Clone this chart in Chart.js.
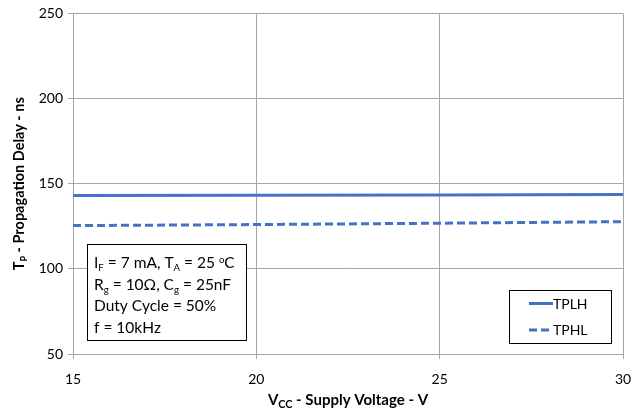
<!DOCTYPE html>
<html>
<head>
<meta charset="utf-8">
<script src="https://cdn.jsdelivr.net/npm/chart.js@4.4.0/dist/chart.umd.min.js"></script>
<style>
  html, body { margin: 0; padding: 0; background: #fff; }
  #wrap { width: 640px; height: 416px; }
</style>
</head>
<body>
<div id="wrap"><canvas id="delayChart" width="640" height="416"></canvas></div>
<script>
// Chart data
const vcc = [15, 20, 25, 30];
const tplh = [143, 143.2, 143.4, 143.6];
const tphl = [125.4, 126, 126.8, 127.7];
const xTicks = [15, 20, 25, 30];
const yTicks = [50, 100, 150, 200, 250];
const noteLines = [
    [['I', ''], ['F', 'sub'], [' = 7 mA, T', ''], ['A', 'sub'], [' = 25 ', ''], ['o', 'sup'], ['C', '']],
    [['R', ''], ['g', 'sub'], [' = 10\u03A9, C', ''], ['g', 'sub'], [' = 25nF', '']],
    [['Duty Cycle = 50%', '']],
    [['f = 10kHz', '']]
];

const FONT = 'Lato, "Open Sans", sans-serif';
const BLUE = '#4472C4';

// draw a run of text pieces with sub/superscripts
function drawRich(ctx, parts, x, y, size, bold, subScale) {
    const k = subScale || 0.62;
    let cx = x;
    parts.forEach(([txt, kind]) => {
        const s = kind ? size * k : size;
        ctx.font = (bold ? 'bold ' : '') + s + 'px ' + FONT;
        let dy = 0;
        if (kind === 'sub') dy = size * 0.22;
        if (kind === 'sup') dy = -size * 0.35;
        ctx.fillText(txt, cx, y + dy);
        cx += ctx.measureText(txt).width;
    });
    return cx - x;
}

function richWidth(ctx, parts, size, bold, subScale) {
    const k = subScale || 0.62;
    let w = 0;
    parts.forEach(([txt, kind]) => {
        const s = kind ? size * k : size;
        ctx.font = (bold ? 'bold ' : '') + s + 'px ' + FONT;
        w += ctx.measureText(txt).width;
    });
    return w;
}

// axis titles, note box and legend
const extras = {
    id: 'extras',
    afterDraw(chart) {
        const ctx = chart.ctx;
        const area = chart.chartArea;
        ctx.save();
        ctx.fillStyle = '#000';
        ctx.textBaseline = 'alphabetic';
        ctx.textAlign = 'left';

        // x title
        const xt = [['V', ''], ['CC', 'sub'], [' - Supply Voltage - V', '']];
        const xw = richWidth(ctx, xt, 15, true, 0.72);
        drawRich(ctx, xt, (area.left + area.right) / 2 - xw / 2, 405, 15, true, 0.72);

        // y title
        const yt = [['T', ''], ['P', 'sub'], [' - Propagation Delay - ns', '']];
        const yw = richWidth(ctx, yt, 14.5, true);
        ctx.save();
        ctx.translate(24, (area.top + area.bottom) / 2);
        ctx.rotate(-Math.PI / 2);
        drawRich(ctx, yt, -yw / 2, 0, 14.5, true);
        ctx.restore();

        // note box
        const bx = 87, by = 244, bw = 159, bh = 96;
        ctx.fillStyle = '#fff';
        ctx.fillRect(bx, by, bw, bh);
        ctx.strokeStyle = '#000';
        ctx.lineWidth = 1;
        ctx.strokeRect(bx + 0.5, by + 0.5, bw, bh);
        ctx.fillStyle = '#000';
        noteLines.forEach((line, i) => {
            drawRich(ctx, line, bx + 7, by + 24 + i * 21.5, 15.5, false);
        });

        // legend
        const lx = 509, ly = 290, lw = 102, lh = 53;
        ctx.fillStyle = '#fff';
        ctx.fillRect(lx, ly, lw, lh);
        ctx.strokeStyle = '#000';
        ctx.strokeRect(lx + 0.5, ly + 0.5, lw, lh);
        chart.data.datasets.forEach((ds, i) => {
            const yy = ly + 13.5 + i * 26.5;
            ctx.strokeStyle = ds.borderColor;
            ctx.lineWidth = 3;
            ctx.setLineDash(ds.borderDash || []);
            ctx.beginPath();
            ctx.moveTo(lx + 20, yy);
            ctx.lineTo(lx + 44, yy);
            ctx.stroke();
            ctx.setLineDash([]);
            ctx.fillStyle = '#000';
            ctx.font = '14px ' + FONT;
            ctx.fillText(ds.label, lx + 44, yy + 5);
        });
        ctx.restore();
    }
};

const ctx = document.getElementById('delayChart').getContext('2d');
new Chart(ctx, {
    type: 'line',
    data: {
        datasets: [{
            label: 'TPLH',
            data: vcc.map((v, i) => ({ x: v, y: tplh[i] })),
            borderColor: BLUE,
            borderWidth: 3,
            pointRadius: 0,
            fill: false
        }, {
            label: 'TPHL',
            data: vcc.map((v, i) => ({ x: v, y: tphl[i] })),
            borderColor: BLUE,
            borderWidth: 3,
            borderDash: [8, 4],
            pointRadius: 0,
            fill: false
        }]
    },
    options: {
        responsive: false,
        animation: false,
        layout: { padding: { top: 10, right: 17, left: 0, bottom: 0 } },
        plugins: {
            legend: { display: false },
            tooltip: { enabled: false }
        },
        scales: {
            x: {
                type: 'linear',
                min: 15,
                max: 30,
                afterBuildTicks: (s) => { s.ticks = xTicks.map(v => ({ value: v })); },
                afterFit: (s) => { s.height = 62; s.paddingRight = 0; },
                grid: { color: '#A6A6A6', tickLength: 5, drawTicks: true },
                border: { color: '#A6A6A6' },
                ticks: { color: '#000', font: { size: 14, family: FONT }, padding: 12, maxRotation: 0 }
            },
            y: {
                min: 50,
                max: 250,
                afterBuildTicks: (s) => { s.ticks = yTicks.map(v => ({ value: v })); },
                afterFit: (s) => { s.width = 73; },
                grid: { color: '#A6A6A6', tickLength: 5 },
                border: { color: '#A6A6A6' },
                ticks: { color: '#000', font: { size: 14, family: FONT }, padding: 5 }
            }
        }
    },
    plugins: [extras]
});
</script>
</body>
</html>
